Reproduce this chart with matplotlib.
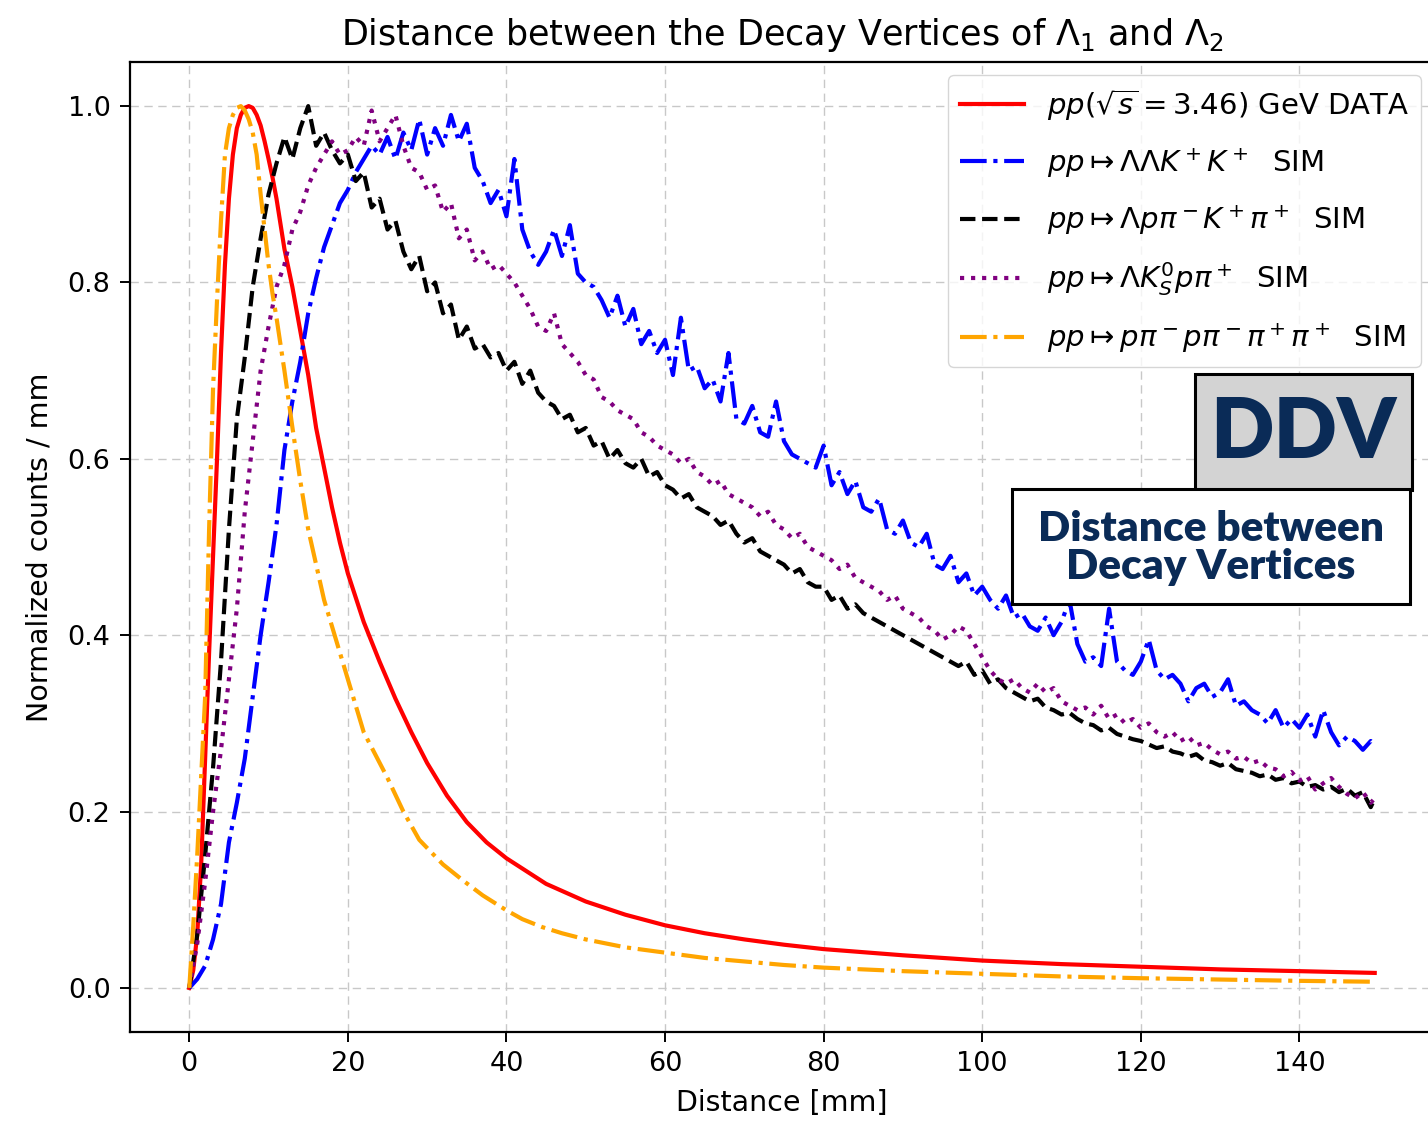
import matplotlib
matplotlib.use("Agg")
import matplotlib.pyplot as plt
from matplotlib.patches import Rectangle

# ---------------- data ----------------
# measured DDV distribution (smooth)
data_x = [0, 0.5, 1, 1.5, 2, 2.5, 3, 3.5, 4, 4.5, 5, 5.5, 6, 6.5, 7, 7.5, 8, 8.5,
          9, 9.5, 10, 10.5, 11, 12, 13, 14, 15, 16, 17, 18, 19, 20, 22, 24, 26,
          28, 30, 32.5, 35, 37.5, 40, 45, 50, 55, 60, 65, 70, 75, 80, 90, 100,
          110, 120, 130, 140, 149.5]
data_y = [0.0, 0.02, 0.06, 0.14, 0.26, 0.38, 0.49, 0.6, 0.72, 0.82, 0.895, 0.945,
          0.975, 0.99, 0.998, 1.0, 0.998, 0.99, 0.978, 0.96, 0.94, 0.919, 0.895,
          0.838, 0.795, 0.745, 0.695, 0.635, 0.59, 0.545, 0.505, 0.47, 0.415, 0.37,
          0.328, 0.29, 0.255, 0.218, 0.188, 0.165, 0.147, 0.118, 0.098, 0.083,
          0.071, 0.062, 0.055, 0.049, 0.044, 0.037, 0.031, 0.027, 0.024, 0.021,
          0.019, 0.017]

# pp -> p pi- p pi- pi+ pi+ (smooth simulation)
bkg_x = [0, 0.5, 1, 1.5, 2, 2.5, 3, 3.5, 4, 4.5, 5, 5.5, 6, 6.5, 7, 7.5, 8, 8.5,
         9, 9.5, 10, 10.5, 11, 12, 13, 14, 15, 16, 17, 18, 19, 20, 22, 25, 27,
         29, 32, 34.5, 37, 40, 42, 44.5, 47, 50, 55, 60, 65, 70, 75, 80, 90,
         100, 110, 120, 130, 140, 149.5]
bkg_y = [0.0, 0.07, 0.15, 0.24, 0.33, 0.52, 0.68, 0.78, 0.87, 0.945, 0.975,
         0.99, 0.998, 1.0, 0.995, 0.985, 0.97, 0.945, 0.9, 0.86, 0.82, 0.787,
         0.76, 0.7, 0.636, 0.575, 0.52, 0.48, 0.44, 0.41, 0.38, 0.35, 0.29,
         0.238, 0.2, 0.168, 0.14, 0.122, 0.105, 0.088, 0.078, 0.069, 0.062,
         0.055, 0.046, 0.04, 0.034, 0.03, 0.026, 0.023, 0.019, 0.016, 0.013,
         0.011, 0.0095, 0.008, 0.007]

# noisy simulated channels, 1 mm bins
sim_x = list(range(0, 150)) + [149.5]

llkk_y = [0.0, 0.01, 0.025, 0.055, 0.095, 0.165, 0.21, 0.26, 0.33, 0.4,
          0.46, 0.525, 0.61, 0.665, 0.71, 0.765, 0.805, 0.84, 0.865, 0.89,
          0.905, 0.925, 0.94, 0.955, 0.945, 0.965, 0.94, 0.97, 0.95, 0.985,
          0.945, 0.975, 0.955, 0.99, 0.96, 0.98, 0.93, 0.915, 0.89, 0.905,
          0.875, 0.94, 0.86, 0.835, 0.82, 0.835, 0.86, 0.83, 0.865, 0.81,
          0.8, 0.795, 0.78, 0.76, 0.785, 0.75, 0.77, 0.73, 0.745, 0.72,
          0.735, 0.695, 0.76, 0.7, 0.705, 0.68, 0.69, 0.665, 0.72, 0.645,
          0.64, 0.66, 0.63, 0.625, 0.665, 0.62, 0.605, 0.6, 0.595, 0.59,
          0.615, 0.57, 0.585, 0.56, 0.575, 0.545, 0.54, 0.555, 0.52, 0.515,
          0.53, 0.505, 0.5, 0.515, 0.48, 0.475, 0.49, 0.46, 0.47, 0.445,
          0.455, 0.44, 0.43, 0.445, 0.42, 0.425, 0.41, 0.405, 0.42, 0.4,
          0.415, 0.44, 0.39, 0.37, 0.375, 0.365, 0.43, 0.37, 0.36, 0.355,
          0.37, 0.395, 0.36, 0.35, 0.355, 0.345, 0.325, 0.34, 0.345, 0.33,
          0.335, 0.35, 0.32, 0.325, 0.315, 0.31, 0.3, 0.315, 0.295, 0.305,
          0.295, 0.31, 0.285, 0.315, 0.29, 0.275, 0.285, 0.28, 0.27, 0.28,
          0.275]

lpkp_y = [0.0, 0.06, 0.15, 0.25, 0.37, 0.52, 0.645, 0.715, 0.795, 0.85,
          0.9, 0.935, 0.965, 0.94, 0.975, 1.0, 0.955, 0.97, 0.95, 0.935,
          0.945, 0.915, 0.925, 0.885, 0.895, 0.86, 0.87, 0.835, 0.815, 0.83,
          0.79, 0.8, 0.765, 0.775, 0.735, 0.75, 0.725, 0.73, 0.715, 0.72,
          0.7, 0.71, 0.685, 0.7, 0.675, 0.665, 0.66, 0.645, 0.65, 0.63,
          0.635, 0.615, 0.62, 0.6, 0.61, 0.595, 0.59, 0.6, 0.58, 0.585,
          0.57, 0.565, 0.555, 0.56, 0.545, 0.54, 0.535, 0.525, 0.53, 0.515,
          0.505, 0.51, 0.495, 0.49, 0.485, 0.48, 0.47, 0.475, 0.46, 0.455,
          0.455, 0.44, 0.445, 0.43, 0.435, 0.425, 0.42, 0.415, 0.41, 0.405,
          0.4, 0.395, 0.39, 0.385, 0.38, 0.375, 0.37, 0.365, 0.37, 0.355,
          0.36, 0.345, 0.35, 0.34, 0.335, 0.33, 0.325, 0.328, 0.318, 0.315,
          0.31, 0.312, 0.305, 0.3, 0.298, 0.292, 0.295, 0.288, 0.285, 0.282,
          0.28, 0.276, 0.272, 0.274, 0.268, 0.266, 0.262, 0.265, 0.258, 0.256,
          0.252, 0.255, 0.248, 0.246, 0.244, 0.24, 0.242, 0.236, 0.238, 0.232,
          0.234, 0.228, 0.23, 0.225, 0.228, 0.222, 0.226, 0.218, 0.222, 0.205,
          0.215]

lk0p_y = [0.0, 0.05, 0.12, 0.2, 0.27, 0.35, 0.43, 0.54, 0.62, 0.7,
          0.75, 0.795, 0.82, 0.86, 0.88, 0.91, 0.93, 0.945, 0.96, 0.945,
          0.95, 0.965, 0.955, 0.995, 0.96, 0.975, 0.99, 0.955, 0.93, 0.925,
          0.905, 0.91, 0.88, 0.89, 0.85, 0.86, 0.825, 0.835, 0.815, 0.82,
          0.81, 0.8, 0.785, 0.77, 0.75, 0.745, 0.765, 0.73, 0.72, 0.71,
          0.695, 0.69, 0.67, 0.665, 0.655, 0.65, 0.645, 0.63, 0.625, 0.615,
          0.61, 0.605, 0.595, 0.6, 0.585, 0.58, 0.57, 0.575, 0.56, 0.555,
          0.55, 0.545, 0.535, 0.54, 0.525, 0.52, 0.51, 0.515, 0.5, 0.495,
          0.49, 0.485, 0.475, 0.48, 0.465, 0.46, 0.455, 0.45, 0.44, 0.445,
          0.43, 0.425, 0.42, 0.41, 0.405, 0.395, 0.4, 0.41, 0.405, 0.39,
          0.375, 0.36, 0.35, 0.345, 0.35, 0.34, 0.335, 0.345, 0.335, 0.34,
          0.325, 0.32, 0.315, 0.318, 0.31, 0.32, 0.305, 0.31, 0.3, 0.305,
          0.295, 0.3, 0.29, 0.285, 0.29, 0.28, 0.285, 0.275, 0.278, 0.27,
          0.265, 0.268, 0.26, 0.262, 0.255, 0.258, 0.25, 0.248, 0.24, 0.245,
          0.235, 0.24, 0.225, 0.232, 0.238, 0.228, 0.22, 0.215, 0.222, 0.21,
          0.215]

labels = [
    r"$pp(\sqrt{s}=3.46)$ GeV DATA",
    r"$pp\mapsto\Lambda\Lambda K^+K^+$  SIM",
    r"$pp\mapsto\Lambda p\pi^-K^+\pi^+$  SIM",
    r"$pp\mapsto\Lambda K^0_Sp\pi^+$  SIM",
    r"$pp\mapsto p\pi^-p\pi^-\pi^+\pi^+$  SIM",
]
x_ticks = [0, 20, 40, 60, 80, 100, 120, 140]
y_ticks = [0.0, 0.2, 0.4, 0.6, 0.8, 1.0]

# ---------------- figure ----------------
W, H = 1428, 1125
fig = plt.figure(figsize=(W / 100, H / 100), dpi=100)
ax = fig.add_axes([130 / W, 1 - 1032 / H, 1304 / W, 970 / H])

LW = 3.0
ax.plot(data_x, data_y, color="red", lw=LW, ls="-", label=labels[0])
ax.plot(sim_x, llkk_y, color="blue", lw=LW, ls="-.", label=labels[1])
ax.plot(sim_x, lpkp_y, color="black", lw=LW, ls="--", label=labels[2])
ax.plot(sim_x, lk0p_y, color="purple", lw=LW, ls=":", label=labels[3])
ax.plot(bkg_x, bkg_y, color="orange", lw=LW, ls="-.", label=labels[4])

ax.set_xlim(-7.475, 156.975)
ax.set_ylim(-0.05, 1.05)
ax.set_xticks(x_ticks)
ax.set_yticks(y_ticks)
ax.set_yticklabels([f"{v:.1f}" for v in y_ticks])
ax.tick_params(labelsize=19.5, length=7, width=1.4, pad=7)
for s in ax.spines.values():
    s.set_linewidth(1.6)

ax.grid(True, color="#c8c8c8", lw=1.0, ls=(0, (6, 4)))
ax.set_axisbelow(True)

ax.set_xlabel("Distance [mm]", fontsize=20.5, labelpad=8)
ax.set_ylabel("Normalized counts / mm", fontsize=20.5, labelpad=10)
ax.set_title(r"Distance between the Decay Vertices of $\Lambda_1$ and $\Lambda_2$",
             fontsize=25.2, pad=12)

ax.legend(loc="upper right", fontsize=21, handlelength=2.2,
          labelspacing=0.8, borderaxespad=0.45)

# ---------------- label boxes ----------------
navy = "#0a2b57"


def fig_rect(x0, y0, x1, y1, face):
    r = Rectangle((x0 / W, 1 - y1 / H), (x1 - x0) / W, (y1 - y0) / H,
                  transform=fig.transFigure, facecolor=face, edgecolor="black",
                  lw=2.2, zorder=5)
    fig.add_artist(r)


fig_rect(1195, 374, 1412, 490, "#d3d3d3")
fig.text(1303 / W, 1 - 434 / H, "DDV", family="Lato", weight="heavy",
         fontsize=60, color=navy, ha="center", va="center", zorder=6)

fig_rect(1012, 489, 1410, 604, "white")
fig.text(1211 / W, 1 - 548 / H, "Distance between\nDecay Vertices",
         family="Lato", weight="heavy", fontsize=30.5, color=navy,
         ha="center", va="center", linespacing=1.0, zorder=6)

fig.savefig("out.png", dpi=100)
